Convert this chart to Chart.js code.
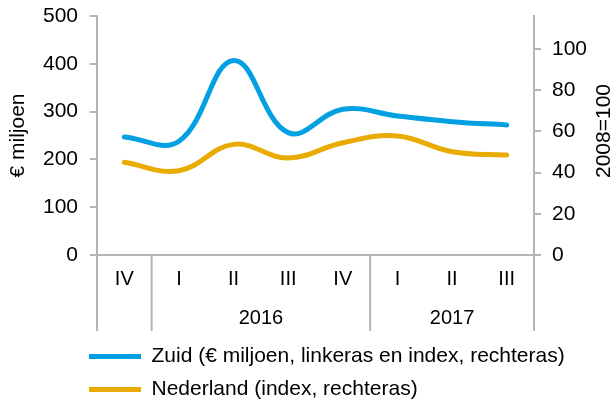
<!DOCTYPE html>
<html>
<head>
<meta charset="utf-8">
<script src="https://cdn.jsdelivr.net/npm/chart.js@4/dist/chart.umd.min.js"></script>
<style>
  html, body { margin: 0; padding: 0; background: #fff; }
  #wrap { width: 616px; height: 400px; }
</style>
</head>
<body>
<div id="wrap"><canvas id="chart"></canvas></div>
<script>
// quarters and the year each belongs to ('' = no year label shown)
const quarters = ['IV', 'I', 'II', 'III', 'IV', 'I', 'II', 'III'];
const quarterYears = ['', '2016', '2016', '2016', '2016', '2017', '2017', '2017'];

// Zuid in € miljoen (left axis), Nederland as index 2008=100 (right axis)
const zuid = [247, 238, 407, 256, 305, 291, 279, 272];
const nederland = [45.0, 40.9, 53.7, 47.1, 54.5, 57.8, 50.1, 48.5];

const leftTicks = [0, 100, 200, 300, 400, 500];
const rightTicks = [0, 20, 40, 60, 80, 100];

const blue = '#00a0e3';
const orange = '#eaab00';
const gray = '#b4b4b4';
const font = '"Liberation Sans", Arial, sans-serif';

// draws the year row under the quarters, the group separators and the right title
const groupAxis = {
    id: 'groupAxis',
    afterLayout(chart) {
        // legend rows start under the plot, left aligned
        chart.legend.left = 77;
        chart.legend.top = 334;
    },
    afterDraw(chart) {
        const ctx = chart.ctx;
        const x = chart.scales.x;
        const area = chart.chartArea;
        const y0 = area.bottom;
        const y1 = area.bottom + 76;

        // separators where the year changes, plus both ends
        const edges = [x.left, x.right];
        for (let i = 1; i < quarters.length; i++) {
            if (quarterYears[i] !== quarterYears[i - 1]) {
                edges.push((x.getPixelForValue(i - 1) + x.getPixelForValue(i)) / 2);
            }
        }
        ctx.save();
        ctx.strokeStyle = gray;
        ctx.lineWidth = 2;
        edges.forEach(px => {
            ctx.beginPath();
            ctx.moveTo(px, y0);
            ctx.lineTo(px, y1);
            ctx.stroke();
        });

        // year labels centred under their quarters
        ctx.fillStyle = '#000';
        ctx.font = '20px ' + font;
        ctx.textAlign = 'center';
        ctx.textBaseline = 'middle';
        let start = 0;
        for (let i = 1; i <= quarters.length; i++) {
            if (i === quarters.length || quarterYears[i] !== quarterYears[start]) {
                if (quarterYears[start]) {
                    const mid = (x.getPixelForValue(start) + x.getPixelForValue(i - 1)) / 2;
                    ctx.fillText(quarterYears[start], mid, 318);
                }
                start = i;
            }
        }

        // right axis title, reading bottom to top
        ctx.translate(604, 131);
        ctx.rotate(-Math.PI / 2);
        ctx.font = '21px ' + font;
        ctx.fillText('2008=100', 0, 0);
        ctx.restore();
    }
};

new Chart(document.getElementById('chart'), {
    type: 'line',
    data: {
        labels: quarters,
        datasets: [{
            label: 'Zuid (€ miljoen, linkeras en index, rechteras)',
            data: zuid,
            yAxisID: 'y',
            borderColor: blue,
            backgroundColor: blue,
            borderWidth: 5,
            borderCapStyle: 'round',
            pointRadius: 0,
            tension: 0.4
        }, {
            label: 'Nederland (index, rechteras)',
            data: nederland,
            yAxisID: 'y2',
            borderColor: orange,
            backgroundColor: orange,
            borderWidth: 5,
            borderCapStyle: 'round',
            pointRadius: 0,
            tension: 0.4
        }]
    },
    options: {
        responsive: true,
        maintainAspectRatio: false,
        animation: false,
        layout: { padding: { top: 16, left: 0, right: 0, bottom: 0 } },
        plugins: {
            tooltip: { enabled: false },
            legend: {
                position: 'bottom',
                align: 'start',
                labels: {
                    usePointStyle: true,
                    pointStyle: 'line',
                    pointStyleWidth: 52,
                    padding: 12,
                    color: '#000',
                    font: { family: font, size: 21 }
                }
            }
        },
        scales: {
            x: {
                offset: true,
                grid: { display: false, drawTicks: false },
                border: { display: true, color: gray, width: 2 },
                ticks: {
                    color: '#000',
                    font: { family: font, size: 20 },
                    padding: 12,
                    autoSkip: false,
                    maxRotation: 0
                },
                afterFit: s => { s.height = 69; }
            },
            y: {
                position: 'left',
                min: 0,
                max: 500,
                afterBuildTicks: s => { s.ticks = leftTicks.map(v => ({ value: v })); },
                grid: { drawOnChartArea: false, color: gray, lineWidth: 2, tickLength: 7 },
                border: { color: gray, width: 2 },
                ticks: {
                    color: '#000',
                    font: { family: font, size: 21 },
                    padding: 12
                },
                title: {
                    display: true,
                    text: '€ miljoen',
                    color: '#000',
                    font: { family: font, size: 21 },
                    padding: { top: 6, bottom: 0 }
                },
                afterFit: s => { s.width = 97; s.paddingTop = 0; s.paddingBottom = 0; }
            },
            y2: {
                position: 'right',
                min: 0,
                max: 116,
                afterBuildTicks: s => { s.ticks = rightTicks.map(v => ({ value: v })); },
                grid: { drawOnChartArea: false, color: gray, lineWidth: 2, tickLength: 7 },
                border: { color: gray, width: 2 },
                ticks: {
                    color: '#000',
                    font: { family: font, size: 21 },
                    padding: 11
                },
                afterFit: s => { s.width = 82; s.paddingTop = 0; s.paddingBottom = 0; }
            }
        }
    },
    plugins: [groupAxis]
});
</script>
</body>
</html>
